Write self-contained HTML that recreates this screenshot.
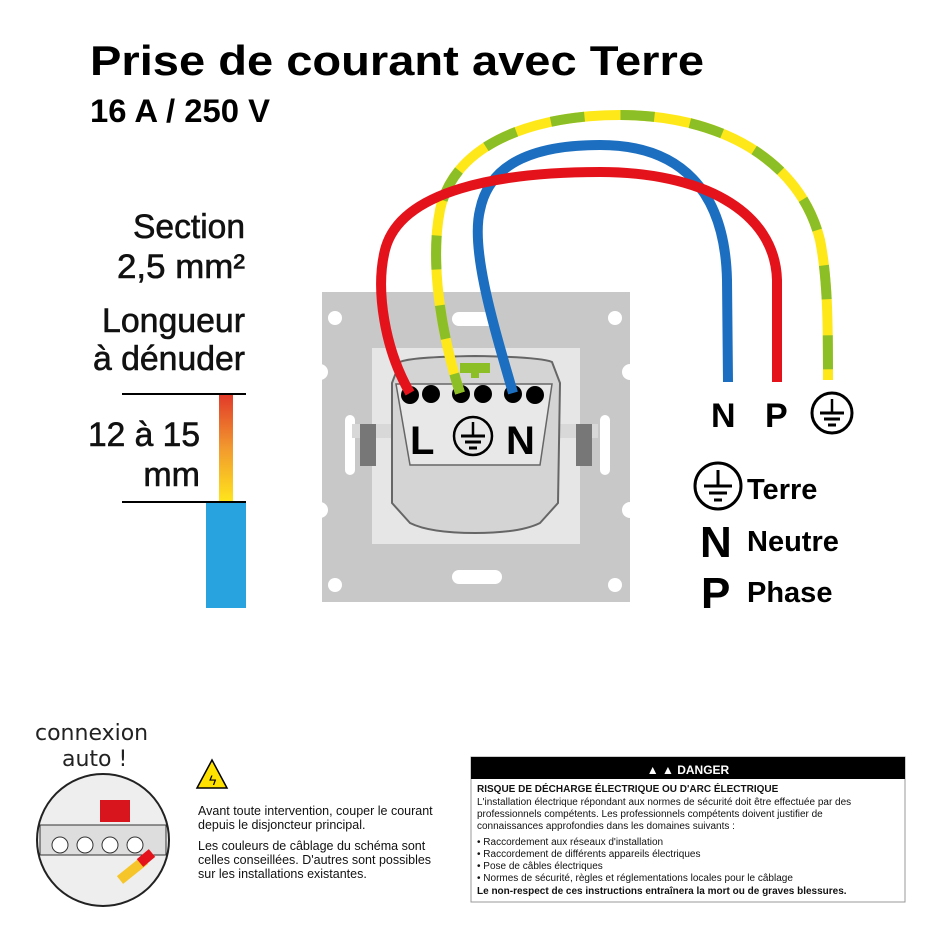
<!DOCTYPE html>
<html><head><meta charset="utf-8"><style>
body{margin:0;width:940px;height:940px;background:#fff;overflow:hidden}
svg{display:block}
.t{font-family:"Liberation Sans",sans-serif;font-weight:bold}
.n{font-family:"Liberation Sans",sans-serif}
</style></head><body>
<svg width="940" height="940" viewBox="0 0 940 940">
<text x="90" y="75" class="t" font-size="42" textLength="614" lengthAdjust="spacingAndGlyphs">Prise de courant avec Terre</text>
<text x="90" y="122" class="t" font-size="32" textLength="180" lengthAdjust="spacingAndGlyphs">16 A / 250 V</text>
<g class="n" font-size="34" text-anchor="end" fill="#111" stroke="#111" stroke-width="0.6">
<text x="245" y="238" textLength="112" lengthAdjust="spacingAndGlyphs">Section</text>
<text x="245" y="278" textLength="128" lengthAdjust="spacingAndGlyphs">2,5 mm²</text>
<text x="245" y="332" textLength="143" lengthAdjust="spacingAndGlyphs">Longueur</text>
<text x="245" y="370" textLength="152" lengthAdjust="spacingAndGlyphs">à dénuder</text>
<text x="200" y="446" textLength="112" lengthAdjust="spacingAndGlyphs">12 à 15</text>
<text x="200" y="486">mm</text>
</g>
<defs><linearGradient id="g" x1="0" y1="0" x2="0" y2="1"><stop offset="0" stop-color="#e23a2a"/><stop offset="0.5" stop-color="#f29a2e"/><stop offset="1" stop-color="#ffe51c"/></linearGradient></defs>
<rect x="219" y="395" width="14" height="107" fill="url(#g)"/>
<rect x="206" y="502" width="40" height="106" fill="#29a3df"/>
<line x1="122" y1="394" x2="246" y2="394" stroke="#000" stroke-width="2"/>
<line x1="122" y1="502" x2="246" y2="502" stroke="#000" stroke-width="2"/>
<!-- plate -->
<rect x="322" y="292" width="308" height="310" fill="#c8c8c8"/>
<g fill="#fff">
<circle cx="335" cy="318" r="7"/><circle cx="615" cy="318" r="7"/><circle cx="335" cy="585" r="7"/><circle cx="615" cy="585" r="7"/>
<rect x="452" y="312" width="44" height="14" rx="7"/><rect x="452" y="570" width="50" height="14" rx="7"/>
<circle cx="320" cy="372" r="8"/><circle cx="630" cy="372" r="8"/><circle cx="320" cy="510" r="8"/><circle cx="630" cy="510" r="8"/>
<rect x="345" y="415" width="10" height="60" rx="5"/><rect x="600" y="415" width="10" height="60" rx="5"/>
</g>
<rect x="372" y="348" width="208" height="196" fill="#e6e6e6"/>
<rect x="352" y="424" width="246" height="14" fill="#d8d8d8"/>
<rect x="360" y="424" width="16" height="42" fill="#777"/>
<rect x="576" y="424" width="16" height="42" fill="#777"/>
<path d="M392,383 L400,362 Q410,357 475,356 Q540,357 552,362 L560,383 L558,503 L540,523 Q520,533 475,533 Q430,533 410,523 L392,503 Z" fill="#d4d4d4" stroke="#666" stroke-width="2"/>
<path d="M396,384 L552,384 L540,465 L410,465 Z" fill="#e8e8e8" stroke="#666" stroke-width="1.5"/>
<rect x="460" y="363" width="30" height="10" fill="#8cbf26"/><rect x="471" y="370" width="8" height="8" fill="#8cbf26"/>
<g fill="#000">
<circle cx="410" cy="395" r="9"/><circle cx="431" cy="394" r="9"/><circle cx="461" cy="394" r="9"/><circle cx="483" cy="394" r="9"/><circle cx="513" cy="394" r="9"/><circle cx="535" cy="395" r="9"/>
</g>
<text x="410" y="454" class="t" font-size="40">L</text>
<text x="506" y="454" class="t" font-size="40">N</text>
<g transform="translate(473,436)" stroke="#000" fill="none"><circle r="19" stroke-width="2.5"/><line x1="0" y1="-14" x2="0" y2="0" stroke-width="2.5"/><line x1="-12" y1="0" x2="12" y2="0" stroke-width="3"/><line x1="-8" y1="6" x2="8" y2="6" stroke-width="3"/><line x1="-4" y1="12" x2="4" y2="12" stroke-width="3"/></g>
<!-- wires -->
<g fill="none" stroke-width="10" stroke-linecap="butt">
<path d="M460,393 C440,330 430,260 440,210 C455,140 540,115 620,115 C720,115 800,160 820,240 C828,280 828,330 828,380" stroke="#ffe81a"/>
<path d="M460,393 C440,330 430,260 440,210 C455,140 540,115 620,115 C720,115 800,160 820,240 C828,280 828,330 828,380" stroke="#8cbf26" stroke-dasharray="34 36" stroke-dashoffset="14"/>
<path d="M513,393 C495,330 470,250 480,210 C490,160 540,145 600,145 C680,145 725,190 727,280 L728,382" stroke="#1c6fc0"/>
<path d="M410,393 C385,350 375,290 385,250 C400,190 500,172 600,172 C700,172 775,210 777,280 L777,382" stroke="#e4131b"/>
</g>
<text x="711" y="427" class="t" font-size="34">N</text>
<text x="765" y="427" class="t" font-size="34">P</text>
<g transform="translate(832,413)" stroke="#000" fill="none"><circle r="20" stroke-width="3"/><line x1="0" y1="-14" x2="0" y2="0" stroke-width="2.5"/><line x1="-12" y1="0" x2="12" y2="0" stroke-width="3"/><line x1="-8" y1="6" x2="8" y2="6" stroke-width="3"/><line x1="-4" y1="12" x2="4" y2="12" stroke-width="3"/></g>
<g transform="translate(718,486)" stroke="#000" fill="none"><circle r="23" stroke-width="3"/><line x1="0" y1="-16" x2="0" y2="0" stroke-width="3"/><line x1="-14" y1="0" x2="14" y2="0" stroke-width="3"/><line x1="-9" y1="7" x2="9" y2="7" stroke-width="3"/><line x1="-4" y1="14" x2="4" y2="14" stroke-width="3"/></g>
<text x="747" y="499" class="t" font-size="29">Terre</text>
<text x="700" y="557" class="t" font-size="44">N</text>
<text x="747" y="551" class="t" font-size="29">Neutre</text>
<text x="701" y="608" class="t" font-size="44">P</text>
<text x="747" y="602" class="t" font-size="29">Phase</text>
<!-- bottom left -->
<text x="35" y="740" font-family="DejaVu Sans,sans-serif" font-size="22" fill="#222">connexion</text>
<text x="62" y="766" font-family="DejaVu Sans,sans-serif" font-size="22" fill="#222">auto !</text>
<circle cx="103" cy="840" r="66" fill="#eee" stroke="#222" stroke-width="2"/>
<rect x="40" y="825" width="126" height="30" fill="#ddd" stroke="#333"/>
<g fill="#fff" stroke="#333"><circle cx="60" cy="845" r="8"/><circle cx="85" cy="845" r="8"/><circle cx="110" cy="845" r="8"/><circle cx="135" cy="845" r="8"/></g>
<rect x="100" y="800" width="30" height="22" fill="#d8141c"/>
<path d="M120,880 L145,860" stroke="#f5c52a" stroke-width="10"/><path d="M140,863 L152,853" stroke="#e4131b" stroke-width="10"/>
<path d="M197,788 L212,760 L227,788 Z" fill="#ffe100" stroke="#000" stroke-width="1.5"/>
<text x="209" y="785" font-size="14" font-family="Liberation Sans,sans-serif">ϟ</text>
<g class="n" font-size="12.5" fill="#111">
<text x="198" y="815">Avant toute intervention, couper le courant</text>
<text x="198" y="829">depuis le disjoncteur principal.</text>
<text x="198" y="850">Les couleurs de câblage du schéma sont</text>
<text x="198" y="864">celles conseillées. D'autres sont possibles</text>
<text x="198" y="878">sur les installations existantes.</text>
</g>
<!-- danger -->
<rect x="471" y="757" width="434" height="145" fill="#fff" stroke="#999"/>
<rect x="471" y="757" width="434" height="22" fill="#000"/>
<text x="688" y="774" text-anchor="middle" class="t" font-size="12" fill="#fff">▲ ▲ DANGER</text>
<g class="n" font-size="10" fill="#111">
<text x="477" y="792" font-weight="bold">RISQUE DE DÉCHARGE ÉLECTRIQUE OU D'ARC ÉLECTRIQUE</text>
<text x="477" y="805">L'installation électrique répondant aux normes de sécurité doit être effectuée par des</text>
<text x="477" y="817">professionnels compétents. Les professionnels compétents doivent justifier de</text>
<text x="477" y="829">connaissances approfondies dans les domaines suivants :</text>
<text x="477" y="845">• Raccordement aux réseaux d'installation</text>
<text x="477" y="857">• Raccordement de différents appareils électriques</text>
<text x="477" y="869">• Pose de câbles électriques</text>
<text x="477" y="881">• Normes de sécurité, règles et réglementations locales pour le câblage</text>
<text x="477" y="894" font-weight="bold">Le non-respect de ces instructions entraînera la mort ou de graves blessures.</text>
</g>
</svg>
</body></html>
